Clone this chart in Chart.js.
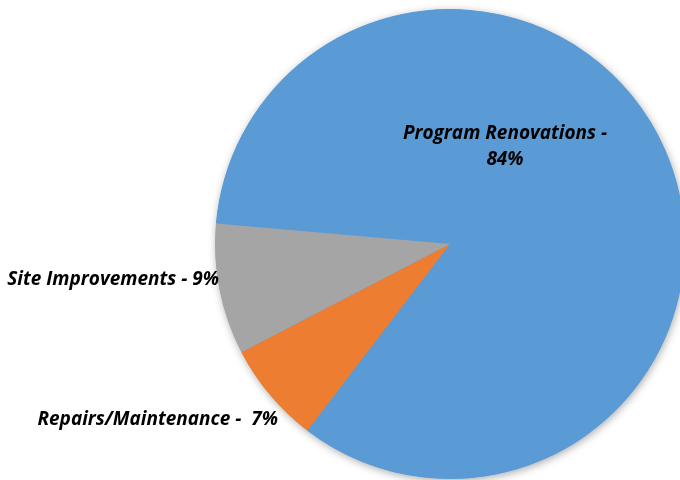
<!DOCTYPE html>
<html>
<head>
<meta charset="utf-8">
<script src="https://cdn.jsdelivr.net/npm/chart.js@4.4.1/dist/chart.umd.min.js"></script>
<style>
	html, body { margin:0; padding:0; background:#FFFFFF; overflow:hidden; }
	#divGrafico { position:relative; width:720px; height:480px; }
</style>
</head>
<body onload="Inicio()">
<div id="divGrafico"><canvas id="grafCapital"></canvas></div>
<script>
//	Datos del grafico
var Categorias=['Program Renovations', 'Repairs/Maintenance', 'Site Improvements'];
var Porcentajes=[84, 7, 9];
var Etiquetas=[['Program Renovations -', '84%'], ['Repairs/Maintenance -  7%'], ['Site Improvements - 9%']];
var Colores=['#5B9BD5', '#ED7D31', '#A5A5A5'];

var myChart;

//	Sombra suave alrededor del circulo
var pluginSombra={
	id:'sombra',
	beforeDatasetsDraw:function(chart)
	{
		var arc=chart.getDatasetMeta(0).data[0];
		if (!arc) return;
		var ctx=chart.ctx;
		ctx.save();
		ctx.shadowColor='rgba(0,0,0,0.35)';
		ctx.shadowBlur=9;
		ctx.shadowOffsetX=1;
		ctx.shadowOffsetY=2;
		ctx.fillStyle=Colores[0];
		ctx.beginPath();
		ctx.arc(arc.x, arc.y, arc.outerRadius-0.5, 0, Math.PI*2);
		ctx.fill();
		ctx.restore();
	}
};

//	Etiquetas de cada porcion, colocadas respecto al centro y al radio
var pluginEtiquetas={
	id:'etiquetas',
	afterDatasetsDraw:function(chart)
	{
		var meta=chart.getDatasetMeta(0);
		var ctx=chart.ctx;
		var ref=meta.data[0];
		var r=ref.outerRadius;
		//	posicion relativa (en radios) y alineacion de cada etiqueta
		var Pos=[{fx:0.234, fy:-0.413, align:'center'}, {fx:-0.732, fy:0.748, align:'right'}, {fx:-0.983, fy:0.153, align:'right'}];
		ctx.save();
		ctx.font='italic bold 19px "Open Sans"';
		ctx.fillStyle='#000000';
		ctx.textBaseline='middle';
		for (var i=0;i<Etiquetas.length;++i)
		{
			var lineas=Etiquetas[i];
			var x=ref.x+Pos[i].fx*r;
			var y=ref.y+Pos[i].fy*r-(lineas.length-1)*13;
			ctx.textAlign=Pos[i].align;
			for (var j=0;j<lineas.length;++j)
				ctx.fillText(lineas[j], x, y+j*26);
		}
		ctx.restore();
	}
};

function Inicio()
{
	var ctx=document.getElementById('grafCapital').getContext('2d');

	if (myChart)
		myChart.destroy();

	myChart=new Chart(ctx, {
		type:'pie',
		data:{
			labels:Categorias,
			datasets:[{
				data:Porcentajes,
				backgroundColor:Colores,
				borderWidth:0
			}]
		},
		options:{
			responsive:true,
			maintainAspectRatio:false,
			animation:false,
			rotation:275,
			layout:{ padding:{ left:215, right:35, top:9, bottom:1 } },
			plugins:{
				legend:{ display:false },
				tooltip:{ enabled:false }
			}
		},
		plugins:[pluginSombra, pluginEtiquetas]
	});
}
</script>
</body>
</html>
